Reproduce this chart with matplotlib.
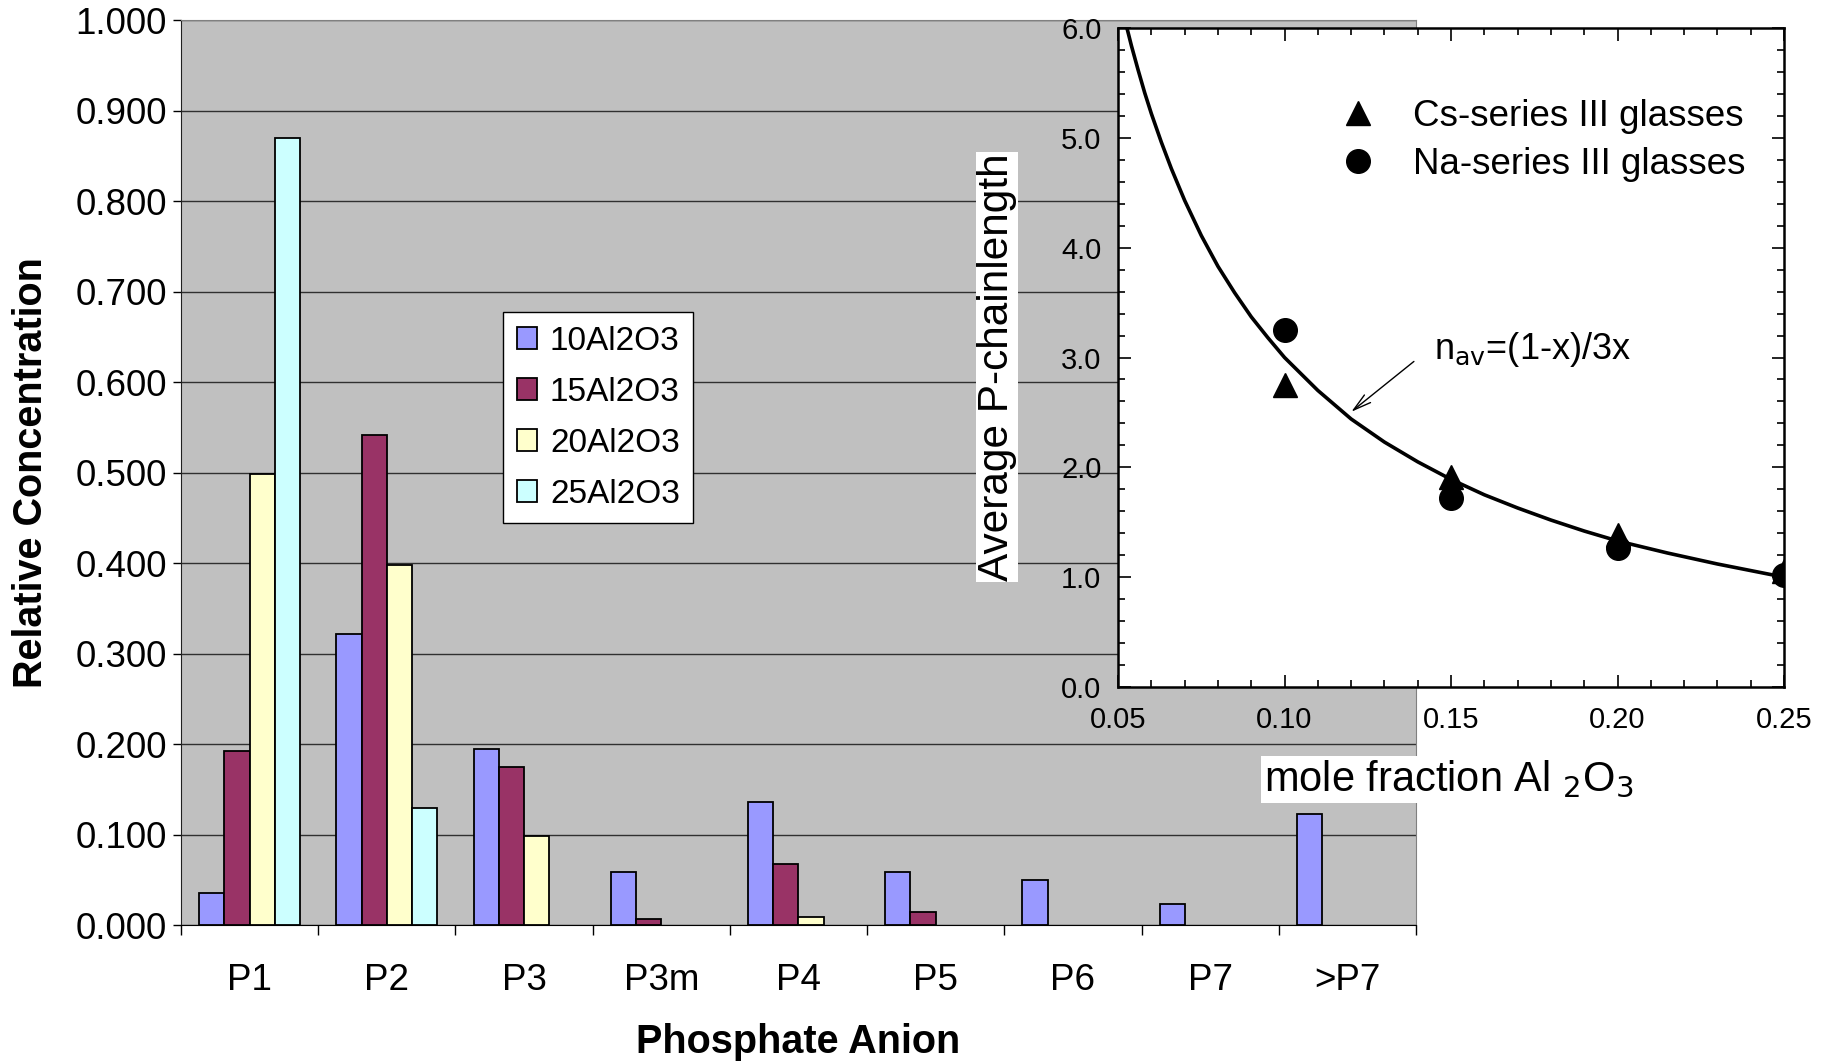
import numpy as np
import matplotlib
matplotlib.use("Agg")
import matplotlib.pyplot as plt
from matplotlib.ticker import MultipleLocator, FixedLocator, NullFormatter

plt.rcParams['font.family'] = ['Liberation Sans', 'DejaVu Sans']

# main chart data: relative concentration of phosphate anions
anions = ['P1', 'P2', 'P3', 'P3m', 'P4', 'P5', 'P6', 'P7', '>P7']
series_names = ['10Al2O3', '15Al2O3', '20Al2O3', '25Al2O3']
al10 = [0.036, 0.322, 0.195, 0.059, 0.136, 0.059, 0.050, 0.023, 0.123]
al15 = [0.193, 0.542, 0.175, 0.007, 0.068, 0.015, 0.0, 0.0, 0.0]
al20 = [0.499, 0.398, 0.098, 0.0, 0.009, 0.0, 0.0, 0.0, 0.0]
al25 = [0.870, 0.129, 0.0, 0.0, 0.0, 0.0, 0.0, 0.0, 0.0]
bar_colors = ['#9999FF', '#993366', '#FFFFCC', '#CCFFFF']

# inset data: average chain length vs mole fraction Al2O3
x_frac = [0.10, 0.15, 0.20, 0.25]
cs_series = [2.75, 1.91, 1.38, 1.06]
na_series = [3.25, 1.72, 1.27, 1.02]
# curve n_av=(1-x)/3x
curve_x = [0.052, 0.054, 0.056, 0.058, 0.060, 0.063, 0.066, 0.070, 0.075, 0.080,
           0.085, 0.090, 0.095, 0.100, 0.110, 0.120, 0.130, 0.140, 0.150, 0.160,
           0.170, 0.180, 0.190, 0.200, 0.215, 0.230, 0.250]
curve_y = [6.08, 5.84, 5.62, 5.41, 5.22, 4.96, 4.72, 4.43, 4.11, 3.83,
           3.59, 3.37, 3.18, 3.00, 2.70, 2.44, 2.23, 2.05, 1.89, 1.75,
           1.63, 1.52, 1.42, 1.33, 1.22, 1.12, 1.00]

fig = plt.figure(figsize=(18.32, 10.61), dpi=100)

# ---- main bar chart ----
ax = fig.add_axes([0.0988, 0.128, 0.6741, 0.853])
ax.set_facecolor('#C0C0C0')
pos = np.arange(len(anions))
w = 0.184
for i, (vals, name, col) in enumerate(zip([al10, al15, al20, al25], series_names, bar_colors)):
    v = np.array(vals)
    keep = v > 0
    ax.bar(pos[keep] + (i - 1.5) * w, v[keep], width=w, color=col,
           edgecolor='black', linewidth=1.3, label=name, zorder=3)

ax.set_xlim(-0.5, len(anions) - 0.5)
ax.set_ylim(0, 1.0)
ax.yaxis.set_major_locator(MultipleLocator(0.1))
ax.yaxis.set_major_formatter(matplotlib.ticker.FormatStrFormatter('%.3f'))
ax.grid(axis='y', color='#303030', linewidth=1.0, zorder=1)

ax.xaxis.set_major_locator(FixedLocator(np.arange(len(anions) + 1) - 0.5))
ax.xaxis.set_major_formatter(NullFormatter())
ax.xaxis.set_minor_locator(FixedLocator(pos))
ax.set_xticklabels(anions, minor=True)
ax.tick_params(axis='x', which='major', direction='out', length=7, width=1)
ax.tick_params(axis='x', which='minor', length=0, pad=27, labelsize=26.5)
ax.tick_params(axis='y', direction='out', length=6, width=1, pad=4, labelsize=26.5)

for s in ['top', 'right']:
    ax.spines[s].set_color('#808080')
ax.spines['left'].set_color('#202020')

ax.set_ylabel('Relative Concentration', fontsize=28.5, fontweight='bold')
ax.yaxis.set_label_coords(-0.106, 0.5)
ax.set_xlabel('Phosphate Anion', fontsize=28.5, fontweight='bold')
ax.xaxis.set_label_coords(0.5, -0.108)

leg = ax.legend(loc='upper left', bbox_to_anchor=(0.261, 0.677), fontsize=24,
                frameon=True, fancybox=False, edgecolor='black', framealpha=1,
                handlelength=0.6, handleheight=0.6, handletextpad=0.4,
                labelspacing=0.6, borderpad=0.4, borderaxespad=0)
leg.get_frame().set_linewidth(1.0)

# ---- inset: average chain length ----
ins = fig.add_axes([0.6103, 0.3525, 0.3635, 0.6211])
ins.set_zorder(5)
ins.set_facecolor('white')
ins.plot(curve_x, curve_y, color='black', linewidth=2.6, zorder=2)
ins.plot(x_frac, cs_series, '^', color='black', markersize=17, zorder=3,
         label='Cs-series III glasses')
ins.plot(x_frac, na_series, 'o', color='black', markersize=17, zorder=3,
         label='Na-series III glasses')
ins.set_xlim(0.05, 0.25)
ins.set_ylim(0, 6)
ins.xaxis.set_major_locator(MultipleLocator(0.05))
ins.xaxis.set_minor_locator(MultipleLocator(0.01))
ins.yaxis.set_major_locator(MultipleLocator(1.0))
ins.yaxis.set_minor_locator(MultipleLocator(0.2))
ins.xaxis.set_major_formatter(matplotlib.ticker.FormatStrFormatter('%.2f'))
ins.yaxis.set_major_formatter(matplotlib.ticker.FormatStrFormatter('%.1f'))
ins.tick_params(which='both', direction='in', top=True, right=True, width=1.2,
                labelsize=21)
ins.tick_params(which='major', length=9)
ins.tick_params(which='minor', length=5)
ins.tick_params(axis='y', pad=12)
ins.tick_params(axis='x', pad=14)
for s in ins.spines.values():
    s.set_linewidth(1.8)

ins.legend(loc='upper left', bbox_to_anchor=(0.31, 0.915), frameon=False,
           fontsize=26.5, handlelength=1.0, handletextpad=1.0, labelspacing=0.35,
           numpoints=1, borderaxespad=0)

ins.annotate('', xy=(0.1194, 2.49), xytext=(0.1395, 2.98),
             arrowprops=dict(arrowstyle='->,head_length=1.3,head_width=0.35',
                             color='black', linewidth=1.0))
ins.text(0.1449, 3.07, r'n$_{\mathrm{av}}$=(1-x)/3x', fontsize=26,
         ha='left', va='center')

ins.text(-0.182, 0.486, 'Average P-chainlength', rotation=90, fontsize=30.5,
         ha='center', va='center', transform=ins.transAxes,
         bbox=dict(facecolor='white', edgecolor='none', pad=1))
ins.text(0.219, -0.14, r'mole fraction Al $_2$O$_3$', fontsize=30,
         ha='left', va='center', transform=ins.transAxes,
         bbox=dict(facecolor='white', edgecolor='none', pad=2))

fig.savefig('out.png', dpi=100)
